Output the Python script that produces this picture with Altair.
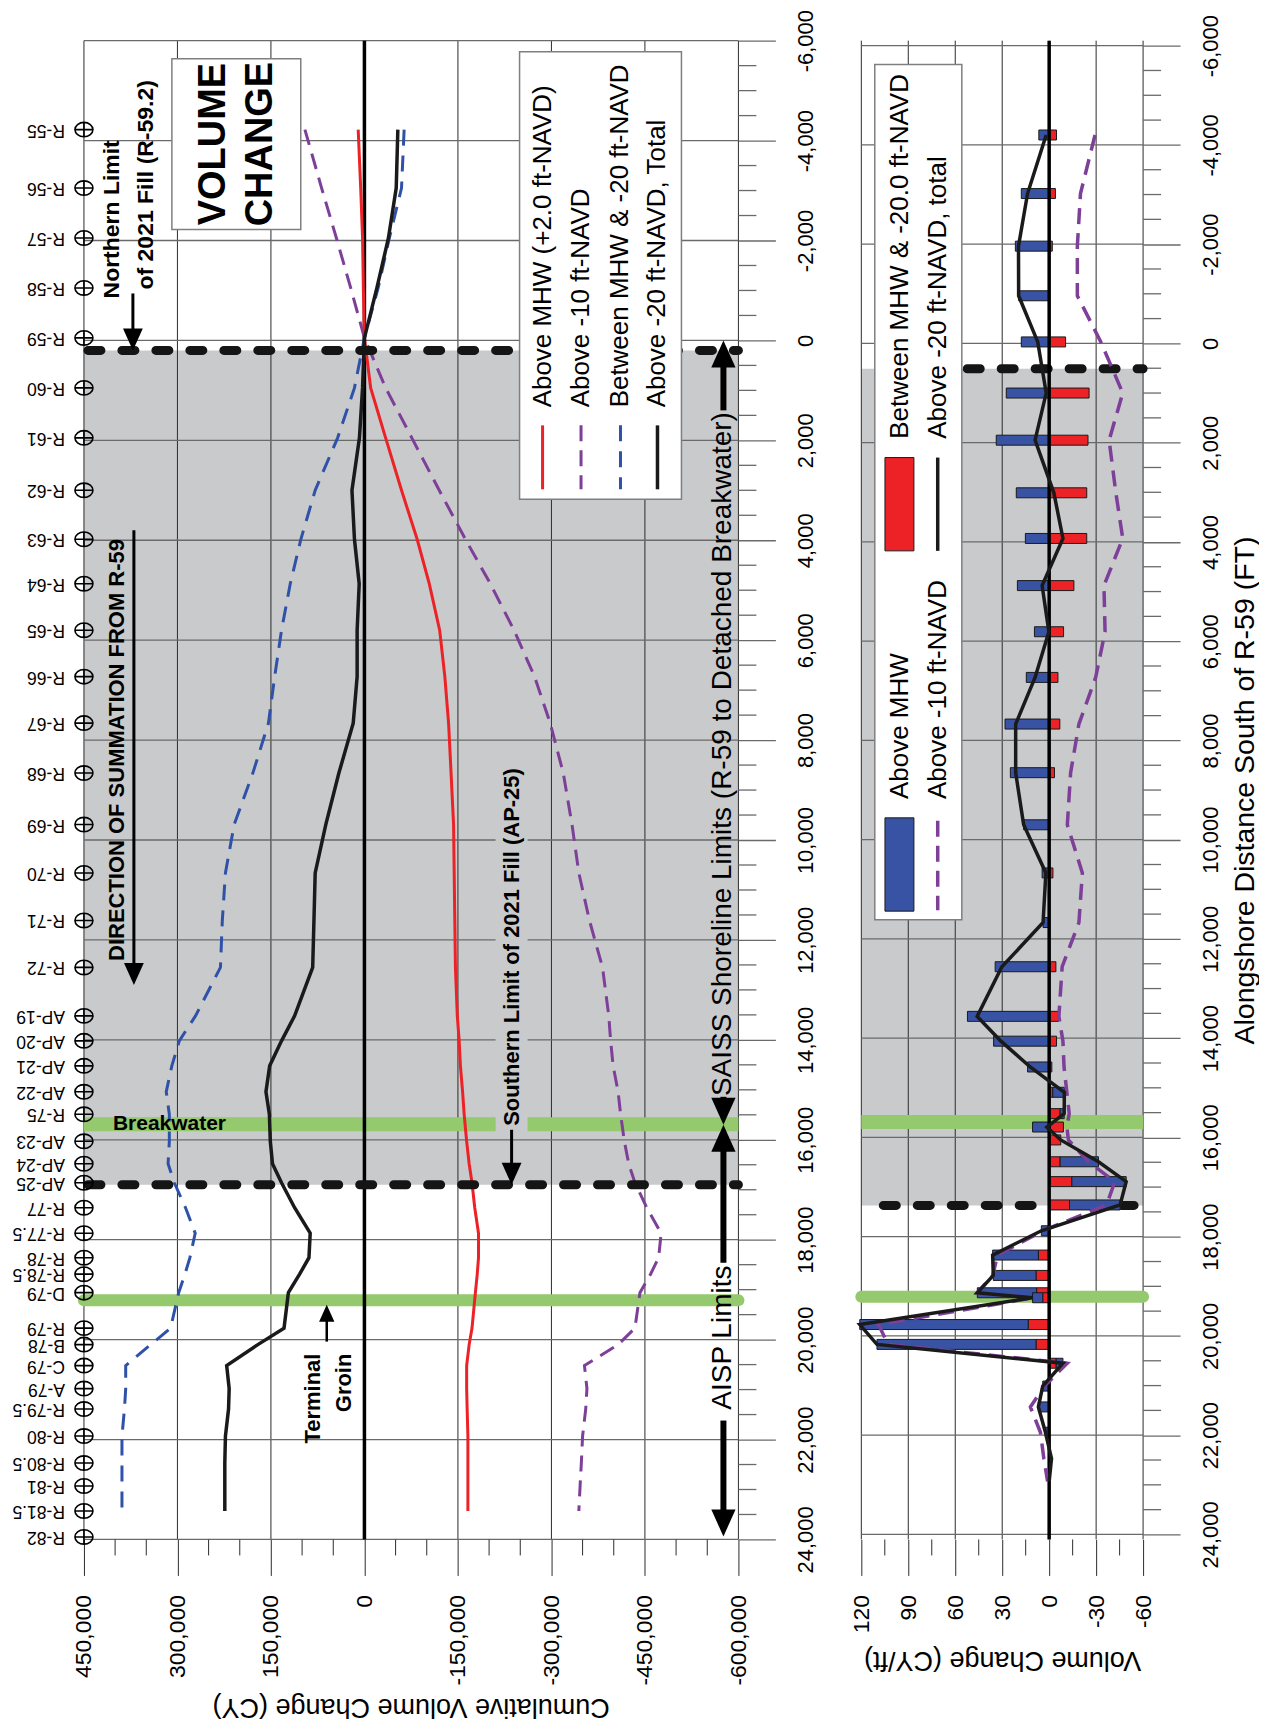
import altair as alt
import pandas as pd

# ---------------- values ----------------
stations = ["R-55", "R-56", "R-57", "R-58", "R-59", "R-60", "R-61", "R-62", "R-63", "R-64",
            "R-65", "R-66", "R-67", "R-68", "R-69", "R-70", "R-71", "R-72", "AP-19", "AP-20",
            "AP-21", "AP-22", "R-75", "AP-23", "AP-24", "AP-25", "R-77", "R-77.5", "R-78", "R-78.5",
            "D-79", "R-79", "B-78", "C-79", "A-79", "R-79.5", "R-80", "R-80.5", "R-81", "R-81.5", "R-82"]
station_ft = [-4220, -3050, -2050, -1050, -50, 950, 1950, 3000, 3980, 4870,
              5800, 6730, 7660, 8660, 9690, 10660, 11610, 12550, 13520, 14020,
              14520, 15040, 15490, 16030, 16480, 16860, 17360, 17870, 18360, 18690,
              19060, 19770, 20100, 20520, 20980, 21390, 21930, 22470, 22930, 23430, 23950]

# cumulative volume change (CY) at stations R-55 ... R-81.5
cum_ft = station_ft[:40]
cum_mhw = [10000, 6000, 3000, 1700, 0, -10000, -34000, -59500, -84600, -104000,
           -120700, -129000, -135000, -139000, -143000, -144000, -145000, -146000, -149000, -152000,
           -154000, -157500, -160000, -164000, -168000, -172600, -177000, -183000, -183000, -181000,
           -178000, -172600, -168000, -164000, -164000, -164800, -166000, -166000, -166000, -166000]
cum_m10 = [95500, 68700, 45000, 22000, 0, -34000, -76000, -120000, -162000, -202000,
           -240000, -273000, -298000, -319000, -333000, -344000, -361000, -382000, -392000, -395000,
           -399000, -407000, -411000, -417000, -424000, -434000, -453000, -476000, -472000, -459000,
           -442000, -434000, -407000, -353000, -357000, -355000, -350000, -348000, -346000, -344000]
cum_between = [-63700, -59500, -40000, -22000, 0, 16000, 43000, 79000, 102000, 119000,
               133000, 144000, 154000, 179000, 209000, 223000, 228000, 231000, 271000, 297000,
               309000, 318000, 313000, 313000, 315000, 305000, 287000, 271500, 280000, 288000,
               298000, 311000, 343000, 383000, 383000, 385000, 389000, 389000, 389000, 389000]
cum_total = [-53600, -51000, -38500, -20000, 0, 3000, 8000, 20000, 16000, 8400,
             11700, 11700, 18000, 41000, 62000, 79000, 81000, 83000, 112000, 133000,
             152000, 158000, 152500, 151000, 147500, 133000, 112000, 87000, 89000, 104000,
             122000, 129000, 171000, 221000, 217000, 218000, 223000, 224000, 224000, 224000]

# volume change per foot (CY/ft)
bar_ft = [-4200, -3020, -1960, -960, -30, 1000, 1950, 3010, 3930, 4880,
          5810, 6730, 7670, 8650, 9700, 10670, 11670, 12560, 13560, 14060,
          14580, 15090, 15520, 15790, 16050, 16490, 16890, 17360, 17880, 18370,
          18780, 19130, 19230, 19770, 20170, 20550, 21010, 21430, 21940, 22470, 22930]
pf_mhw = [-4.7, -4.0, -2.0, 0, -10.5, -25.5, -24.8, -24.0, -24.0, -15.8,
          -9.2, -5.6, -6.8, -3.4, 0, -2.4, 0, -4.3, -6.2, -4.7,
          -1.7, -2.3, -7.0, -9.1, -7.4, -7.0, -14.5, -13.0, 0, 6.9,
          8.4, 8.0, 4.1, 13.4, 8.4, -4.5, 0, 0, 0, 0, 0]
pf_between = [6.6, 17.8, 21.6, 19.5, 17.8, 27.4, 33.8, 21.0, 15.2, 20.3,
              9.4, 14.6, 28.2, 24.8, 16.3, 4.5, 3.9, 34.5, 52.2, 35.5,
              13.8, -7.4, -2.6, 10.6, 0, -24.5, -34.7, -32.3, 5.0, 29.2,
              27.3, 37.9, 6.5, 107.6, 101.6, -4.3, 4.1, 6.9, 2.4, -1.5, 0]
pf_total = [1.9, 13.8, 19.6, 19.5, 7.3, 1.9, 9.0, -3.0, -8.8, 4.5,
            0.2, 9.0, 21.4, 21.4, 16.3, 2.1, 3.9, 30.2, 46.0, 30.8,
            12.1, -9.7, -9.6, 1.5, -7.4, -31.5, -49.2, -45.3, 5.0, 36.1,
            35.7, 45.9, 10.6, 121.0, 110.0, -8.8, 4.1, 6.9, 2.4, -1.5, 0]
pf_m10 = [-29.3, -20, -18, -18, -33, -47, -38.3, -42.6, -47, -35,
          -35.7, -29.7, -19, -13.7, -11.6, -21.2, -19, -8.3, -6.2, -8.8,
          -9.5, -11.3, -12.8, -11.3, -12.3, -25, -42, -36.6, 4, 33,
          36, 46, 10, 109, 103, -11.5, 3, 12, 5.6, 3.4, 1]

# axis ticks
dist_ticks = [-6000, -4000, -2000, 0, 2000, 4000, 6000, 8000, 10000, 12000, 14000,
              16000, 18000, 20000, 22000, 24000]
dist_minor = [v for v in range(-5500, 24000, 500) if v % 2000 != 0]
cum_ticks = [-600000, -450000, -300000, -150000, 0, 150000, 300000, 450000]
cum_minor = [v for v in range(-550000, 450000, 50000) if v % 150000 != 0]
pf_ticks = [-60, -30, 0, 30, 60, 90, 120]
pf_minor = [-45, -15, 15, 45, 75, 105]

# limits / structures (ft)
limits_left = [200, 16900]
limits_right = [510, 17370]
breakwater_ft = 15690
groin_ft = 19212

# ---------------- styling ----------------
W1, W2, H = 655, 282, 1500
FONT = "Liberation Sans"
RED = "#ec2227"
BLUE = "#3953a4"
BLUE_LINE = "#2f52a8"
PURPLE = "#7d3f98"
GREEN = "#94c96d"
GRAY = "#c9cacc"
VGRID = "#2b2b2b"
HGRID = "#6a6a6a"
MINUS = "replace(format(datum.value, ','), '\u2212', '-')"
CIRC = "M-1,0A1,0.8,0,1,0,1,0A1,0.8,0,1,0,-1,0M-1,0L1,0M0,-0.8L0,0.8"
HEAD_DOWN = "M0,0L-0.9,-2L0.9,-2Z"
HEAD_UP = "M0,0L-0.9,2L0.9,2Z"

YS = alt.Scale(domain=[-6000, 24000], reverse=True, nice=False, zero=False)
XS1 = alt.Scale(domain=[-600000, 450000], reverse=True, nice=False, zero=False)
XS2 = alt.Scale(domain=[-60, 120], reverse=True, nice=False, zero=False)


def Yf(f):
    return alt.Y(f + ":Q", scale=YS, axis=None)


def Xf(f, xs):
    return alt.X(f + ":Q", scale=xs, axis=None)


def df(**cols):
    return pd.DataFrame(cols)


def x_axis(values, title=None, title_pad=0):
    kw = dict(orient="bottom", values=values, grid=False, domain=False, ticks=True,
              tickSize=36, tickColor=VGRID, tickWidth=1, labelAngle=270,
              labelAlign="right", labelBaseline="middle", labelPadding=19,
              labelFont=FONT, labelFontSize=23, labelColor="black", labelExpr=MINUS,
              labelOverlap=False, labelFlush=False)
    if title:
        kw.update(title=title, titleFont=FONT, titleFontSize=27, titleFontWeight="normal",
                  titleColor="black", titleAngle=180, titleBaseline="top",
                  titlePadding=title_pad)
    else:
        kw.update(title=None)
    return alt.Axis(**kw)


def y_axis(title):
    kw = dict(orient="right", values=dist_ticks, grid=False, domain=False, ticks=True,
              tickSize=37, tickColor=HGRID, tickWidth=1.3, labelAngle=270,
              labelAlign="center", labelBaseline="top", labelPadding=20,
              labelFont=FONT, labelFontSize=22, labelColor="black", labelExpr=MINUS,
              labelOverlap=False, labelFlush=False)
    if title:
        kw.update(title=title, titleFont=FONT, titleFontSize=28.5, titleFontWeight="normal",
                  titleColor="black", titleAngle=270, titleBaseline="top", titlePadding=9)
    else:
        kw.update(title=None)
    return alt.Axis(**kw)


def texts(data, xs, **kw):
    base = dict(font=FONT, color="black", baseline="middle")
    base.update(kw)
    return alt.Chart(data).mark_text(**base).encode(x=Xf("x", xs), y=Yf("y"), text="t:N")


def vline(data, xs, **kw):
    return alt.Chart(data).mark_rule(**kw).encode(x=Xf("x", xs), y=Yf("y1"), y2="y2:Q")


def head(data, xs, shape, size):
    return alt.Chart(data).mark_point(shape=shape, filled=True, size=size, color="black",
                                      opacity=1).encode(x=Xf("x", xs), y=Yf("y"))


def panel_base(xs, width, ticks, minor, axis_x, axis_y, limits):
    layers = []
    layers.append(alt.Chart(df(a=[limits[0]], b=[limits[1]])).mark_rect(color=GRAY).encode(
        x=alt.value(0), x2=alt.value(width), y=Yf("a"), y2="b:Q"))
    layers.append(alt.Chart(df(v=ticks)).mark_rule(color=VGRID, strokeWidth=1).encode(
        x=alt.X("v:Q", scale=xs, axis=axis_x), y=alt.value(0), y2=alt.value(H)))
    layers.append(alt.Chart(df(v=dist_ticks)).mark_rule(color=HGRID, strokeWidth=1.3).encode(
        y=alt.Y("v:Q", scale=YS, axis=axis_y), x=alt.value(0), x2=alt.value(width)))
    layers.append(alt.Chart(df(v=minor)).mark_rule(color=VGRID, strokeWidth=1).encode(
        x=Xf("v", xs), y=alt.value(H), y2=alt.value(H + 16)))
    layers.append(alt.Chart(df(v=dist_minor)).mark_rule(color=HGRID, strokeWidth=1.3).encode(
        y=Yf("v"), x=alt.value(width), x2=alt.value(width + 18)))
    layers.append(alt.Chart(df(v=[breakwater_ft])).mark_rule(color=GREEN, strokeWidth=14).encode(
        y=Yf("v"), x=alt.value(0), x2=alt.value(width)))
    layers.append(alt.Chart(df(v=[groin_ft])).mark_rule(color=GREEN, strokeWidth=12,
                                                         strokeCap="round").encode(
        y=Yf("v"), x=alt.value(0), x2=alt.value(width)))
    return layers


def limit_line(limit, x0, width):
    return alt.Chart(df(v=[limit])).mark_rule(color="#151515", strokeWidth=9, strokeDash=[13, 21],
                                              strokeCap="round", strokeDashOffset=-4).encode(
        y=Yf("v"), x=alt.value(x0), x2=alt.value(width))


def zero_line(xs):
    return alt.Chart(df(v=[0])).mark_rule(color="black", strokeWidth=3.5).encode(
        x=Xf("v", xs), y=alt.value(0), y2=alt.value(H))


# ---------------- left panel: cumulative ----------------
cum_df = df(ft=cum_ft, mhw=cum_mhw, m10=cum_m10, btw=cum_between, tot=cum_total)


def cum_line(col, color, dash=None, width=3):
    kw = dict(color=color, strokeWidth=width)
    if dash:
        kw["strokeDash"] = dash
    return alt.Chart(cum_df).mark_line(**kw).encode(
        x=Xf(col, XS1), y=Yf("ft"), order="ft:Q")


L = panel_base(XS1, W1, cum_ticks, cum_minor, x_axis(cum_ticks), y_axis(None), limits_left)
L.append(zero_line(XS1))
L.append(cum_line("btw", BLUE_LINE, [16, 10], 3))
L.append(cum_line("m10", PURPLE, [16, 9], 3))
L.append(cum_line("mhw", RED, None, 3))
L.append(cum_line("tot", "#1a1a1a", None, 3.5))
L.append(limit_line(limits_left[0], 0, W1))
L.append(limit_line(limits_left[1], 0, W1))

# axis title of the cumulative panel (upside-down, as in the rotated original)
L.append(alt.Chart(df(t=["Cumulative Volume Change (CY)"])).mark_text(
    font=FONT, fontSize=27, color="black", angle=180, align="center", baseline="middle").encode(
    x=alt.value(W1 / 2), y=alt.value(H + 168), text="t:N"))

# southern limit annotation (with gray backing that breaks grid and green band)
L.append(alt.Chart(df(a=[-210450], b=[-261750], y1=[8300], y2=[15900])).mark_rect(color=GRAY).encode(
    x=Xf("a", XS1), x2="b:Q", y=Yf("y1"), y2="y2:Q"))
L.append(texts(df(x=[-236100], y=[15720], t=["Southern Limit of 2021 Fill (AP-25)"]), XS1,
               angle=270, align="left", fontSize=22, fontWeight="bold"))
L.append(vline(df(x=[-236100], y1=[15800], y2=[16700]), XS1, color="black", strokeWidth=3))
L.append(head(df(x=[-236100], y=[16900]), XS1, HEAD_DOWN, 484))

# legend
L.append(alt.Chart(df(a=[-248900], b=[-508600], y1=[-5780], y2=[3180])).mark_rect(
    fill="white", stroke="#7f7f7f", strokeWidth=1.5).encode(
    x=Xf("a", XS1), x2="b:Q", y=Yf("y1"), y2="y2:Q"))
leg_x = [-285800, -347500, -410800, -470150]
L.append(vline(df(x=[leg_x[0]], y1=[1700], y2=[2980]), XS1, color=RED, strokeWidth=3))
L.append(vline(df(x=[leg_x[1]], y1=[1700], y2=[2980]), XS1, color=PURPLE, strokeWidth=3,
               strokeDash=[16, 9]))
L.append(vline(df(x=[leg_x[2]], y1=[1700], y2=[2980]), XS1, color=BLUE_LINE, strokeWidth=3,
               strokeDash=[16, 10]))
L.append(vline(df(x=[leg_x[3]], y1=[1700], y2=[2980]), XS1, color="#1a1a1a", strokeWidth=3.5))
L.append(texts(df(x=leg_x, y=[1340] * 4,
                  t=["Above MHW (+2.0 ft-NAVD)", "Above -10 ft-NAVD",
                     "Between MHW & -20 ft-NAVD", "Above -20 ft-NAVD, Total"]), XS1,
               angle=270, align="left", fontSize=26))

# title box
L.append(alt.Chart(df(a=[308900], b=[102140], y1=[-5640], y2=[-2220])).mark_rect(
    fill="white", stroke="#7f7f7f", strokeWidth=1.5).encode(
    x=Xf("a", XS1), x2="b:Q", y=Yf("y1"), y2="y2:Q"))
L.append(texts(df(x=[241600, 166260], y=[-3930, -3930], t=["VOLUME", "CHANGE"]), XS1,
               angle=270, align="center", fontSize=38, fontWeight="bold"))

# northern limit
L.append(texts(df(x=[405100, 350600], y=[-840, -1020],
                  t=["Northern Limit", "of 2021 Fill (R-59.2)"]), XS1,
               angle=270, align="left", fontSize=23, fontWeight="bold"))
L.append(vline(df(x=[371450], y1=[-940], y2=[100]), XS1, color="black", strokeWidth=3))
L.append(head(df(x=[371450], y=[200]), XS1, HEAD_DOWN, 484))

# direction of summation
L.append(texts(df(x=[397100], y=[12420], t=["DIRECTION OF SUMMATION FROM R-59"]), XS1,
               angle=270, align="left", fontSize=22, fontWeight="bold"))
L.append(vline(df(x=[369850], y1=[3800], y2=[12800]), XS1, color="black", strokeWidth=3))
L.append(head(df(x=[369850], y=[12900]), XS1, HEAD_DOWN, 484))

# SAISS / AISP limits
SX = -575950
L.append(texts(df(x=[SX, SX], y=[8280, 19960],
                  t=["SAISS Shoreline Limits (R-59 to Detached Breakwater)", "AISP Limits"]), XS1,
               angle=270, align="center", fontSize=28))
L.append(vline(df(x=[SX] * 4, y1=[300, 15140, 15900, 21620], y2=[1400, 15500, 18460, 23700]), XS1,
               color="black", strokeWidth=6))
L.append(head(df(x=[SX, SX], y=[0, 15700]), XS1, HEAD_UP, 729))
L.append(head(df(x=[SX, SX], y=[15700, 23940]), XS1, HEAD_DOWN, 729))

# breakwater & terminal groin
L.append(texts(df(x=[403500], y=[breakwater_ft], t=["Breakwater"]), XS1,
               align="left", fontSize=21, fontWeight="bold"))
L.append(texts(df(x=[82900, 32240], y=[20280, 20280], t=["Terminal", "Groin"]), XS1,
               angle=270, align="right", fontSize=22, fontWeight="bold"))
L.append(vline(df(x=[60460], y1=[19500], y2=[20040]), XS1, color="black", strokeWidth=2.5))
L.append(head(df(x=[60460], y=[19300]), XS1, HEAD_UP, 289))

# stations
st_df = df(ft=station_ft, name=stations)
L.append(alt.Chart(st_df).mark_point(shape=CIRC, filled=False, size=324, color="black",
                                     strokeWidth=1.6, opacity=1).encode(
    x=alt.value(0), y=Yf("ft")))
L.append(alt.Chart(st_df).mark_text(angle=180, align="left", baseline="middle", font=FONT,
                                    fontSize=17.5, color="black").encode(
    x=alt.value(-19), y=Yf("ft"), text="name:N"))

left = alt.layer(*L).resolve_axis(x="independent", y="independent").properties(width=W1, height=H)

# ---------------- right panel: per foot ----------------
rows = []
for f, m, b in zip(bar_ft, pf_mhw, pf_between):
    if m != 0:
        rows.append({"ft": f, "v": m, "s": "Above MHW", "o": 0})
    if b != 0:
        rows.append({"ft": f, "v": b, "s": "Between", "o": 1})
bars_df = pd.DataFrame(rows)
pf_df = df(ft=bar_ft, tot=pf_total, m10=pf_m10)

R = panel_base(XS2, W2, pf_ticks, pf_minor,
               x_axis(pf_ticks, "Volume Change (CY/ft)", 40),
               y_axis("Alongshore Distance South of R-59 (FT)"), limits_right)
R.append(limit_line(limits_right[0], 102, W2))
R.append(limit_line(limits_right[1], 18, W2))
R.append(alt.Chart(bars_df).mark_bar(orient="horizontal", size=10, stroke="#1a1a1a",
                                     strokeWidth=1).encode(
    x=alt.X("v:Q", scale=XS2, axis=None, stack="zero"),
    y=Yf("ft"),
    color=alt.Color("s:N", scale=alt.Scale(domain=["Above MHW", "Between"], range=[RED, BLUE]),
                    legend=None),
    order=alt.Order("o:Q")))
R.append(zero_line(XS2))
R.append(alt.Chart(pf_df).mark_line(color=PURPLE, strokeWidth=3.5, strokeDash=[16, 9]).encode(
    x=Xf("m10", XS2), y=Yf("ft"), order="ft:Q"))
R.append(alt.Chart(pf_df).mark_line(color="#1a1a1a", strokeWidth=3.5).encode(
    x=Xf("tot", XS2), y=Yf("ft"), order="ft:Q"))

# legend
R.append(alt.Chart(df(a=[111.4], b=[55.8], y1=[-5620], y2=[11612])).mark_rect(
    fill="white", stroke="#7f7f7f", strokeWidth=1.5).encode(
    x=Xf("a", XS2), x2="b:Q", y=Yf("y1"), y2="y2:Q"))
R.append(alt.Chart(df(a=[104.9, 104.9], b=[86.4, 86.4], y1=[2300, 9560], y2=[4180, 11440],
                      c=["B", "R"])).mark_rect(stroke="#1a1a1a", strokeWidth=1).encode(
    x=Xf("a", XS2), x2="b:Q", y=Yf("y1"), y2="y2:Q",
    color=alt.Color("c:N", scale=alt.Scale(domain=["B", "R"], range=[BLUE, RED]), legend=None)))
R.append(vline(df(x=[71.2], y1=[2300], y2=[4180]), XS2, color="#1a1a1a", strokeWidth=3.5))
R.append(vline(df(x=[71.2], y1=[9620], y2=[11420]), XS2, color=PURPLE, strokeWidth=3.5,
               strokeDash=[16, 9]))
R.append(texts(df(x=[95.4, 71.2, 95.4, 71.2], y=[1920, 1920, 9180, 9180],
                  t=["Between MHW & -20.0 ft-NAVD", "Above -20 ft-NAVD, total",
                     "Above MHW", "Above -10 ft-NAVD"]), XS2,
               angle=270, align="left", fontSize=26))

right = alt.layer(*R).resolve_axis(x="independent", y="independent").properties(width=W2, height=H)

chart = alt.hconcat(left, right, spacing=34).properties(
    padding={"left": 4, "top": 0, "right": 0, "bottom": 0}
).configure_view(strokeWidth=0)

chart.save("out.html", embed_options={"renderer": "svg", "actions": False})
